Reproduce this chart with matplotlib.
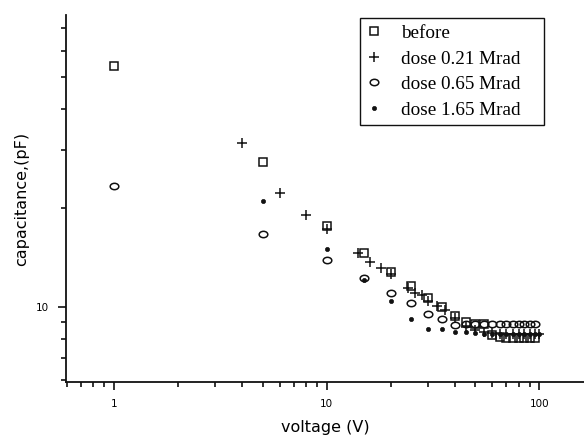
import matplotlib
matplotlib.use("Agg")
import matplotlib.pyplot as plt
from matplotlib.path import Path
from matplotlib.transforms import Affine2D
from matplotlib.ticker import LogLocator, NullFormatter, FixedLocator, FixedFormatter

# before irradiation
before_v = [1, 5, 10, 15, 20, 25, 30, 35, 40, 45, 50, 55, 60, 65, 70, 75, 80, 85, 90, 95]
before_c = [54.0, 27.6, 17.6, 14.6, 12.8, 11.6, 10.67, 10.0, 9.39, 9.0, 8.9, 8.85,
            8.2, 8.1, 8.05, 8.05, 8.05, 8.05, 8.05, 8.05]

# dose 0.21 Mrad
d021_v = [4, 6, 8, 10, 14, 16, 18, 20, 24, 26, 28, 30, 33, 36, 40, 45, 50, 55, 60,
          65, 70, 75, 80, 85, 90, 95, 100]
d021_c = [31.4, 22.2, 19.0, 17.2, 14.6, 13.7, 13.1, 12.6, 11.4, 11.05, 10.87, 10.4,
          10.05, 9.8, 9.25, 8.7, 8.5, 8.4, 8.35, 8.3, 8.3, 8.3, 8.3, 8.3, 8.3, 8.3, 8.3]

# dose 0.65 Mrad
d065_v = [1, 5, 10, 15, 20, 25, 30, 35, 40, 45, 50, 55, 60, 65, 70, 75, 80, 85, 90, 95]
d065_c = [23.3, 16.7, 13.9, 12.27, 11.05, 10.3, 9.5, 9.18, 8.82, 8.85, 8.85, 8.85,
          8.85, 8.85, 8.85, 8.85, 8.85, 8.85, 8.85, 8.85]

# dose 1.65 Mrad
d165_v = [5, 10, 15, 20, 25, 30, 35, 40, 45, 50, 55, 60, 65, 70, 75, 80, 85, 90, 95, 100]
d165_c = [21.0, 15.0, 12.1, 10.4, 9.18, 8.6, 8.56, 8.41, 8.4, 8.35, 8.3, 8.3, 8.3,
          8.3, 8.3, 8.3, 8.3, 8.3, 8.3, 8.3]

labels = ["before", "dose 0.21 Mrad", "dose 0.65 Mrad", "dose 1.65 Mrad"]

# circles in the original look a bit flattened
oval = Path.unit_circle().transformed(Affine2D().scale(1.35, 1.0))

fig = plt.figure(figsize=(5.84, 4.37), dpi=100)
ax = fig.add_axes([66 / 584, 1 - 382 / 437, 1 - 66 / 584, (382 - 15) / 437])

ink = "#111111"
ax.plot(before_v, before_c, ls="none", marker="s", ms=5.5, mfc="none", mec=ink, mew=1.1,
        label=labels[0])
ax.plot(d021_v, d021_c, ls="none", marker="+", ms=7, mec=ink, mew=1.1, label=labels[1])
ax.plot(d065_v, d065_c, ls="none", marker=oval, ms=6.2, mfc="none", mec=ink, mew=1.1,
        label=labels[2])
ax.plot(d165_v, d165_c, ls="none", marker="o", ms=3, mfc=ink, mec=ink, mew=0.5,
        label=labels[3])

ax.set_xscale("log")
ax.set_yscale("log")
ax.set_xlim(0.595, 162)
ax.set_ylim(5.92, 76.9)

for s in ["top", "right"]:
    ax.spines[s].set_visible(False)
for s in ["left", "bottom"]:
    ax.spines[s].set_linewidth(1.3)
    ax.spines[s].set_color(ink)

ax.xaxis.set_major_locator(FixedLocator([1, 10, 100]))
ax.xaxis.set_major_formatter(FixedFormatter(["1", "10", "100"]))
ax.xaxis.set_minor_locator(LogLocator(base=10, subs=range(2, 10)))
ax.xaxis.set_minor_formatter(NullFormatter())
ax.yaxis.set_major_locator(FixedLocator([10]))
ax.yaxis.set_major_formatter(FixedFormatter(["10"]))
ax.yaxis.set_minor_locator(LogLocator(base=10, subs=range(2, 10)))
ax.yaxis.set_minor_formatter(NullFormatter())

ax.tick_params(which="major", direction="out", length=6, width=1.2, labelsize=7.5,
               pad=6, color=ink)
ax.tick_params(which="minor", direction="out", length=3.5, width=1.2, color=ink)

ax.set_xlabel("voltage (V)", fontsize=11.5, labelpad=8)
ax.set_ylabel("capacitance,(pF)", fontsize=11.5, labelpad=5)

# legend box spans x 360..544, y 18..123 in pixels
leg = ax.legend(loc="upper left",
                bbox_to_anchor=(360 / 584, 1 - 123 / 437, 184 / 584, 105 / 437),
                bbox_transform=fig.transFigure, mode="expand",
                prop={"family": "Liberation Serif", "size": 13.8},
                frameon=True, fancybox=False, framealpha=1, edgecolor=ink,
                borderpad=0.35, labelspacing=0.42, handletextpad=1.0, handlelength=0.8,
                borderaxespad=0)
leg.get_frame().set_linewidth(1.0)

fig.savefig("out.png", dpi=100)
